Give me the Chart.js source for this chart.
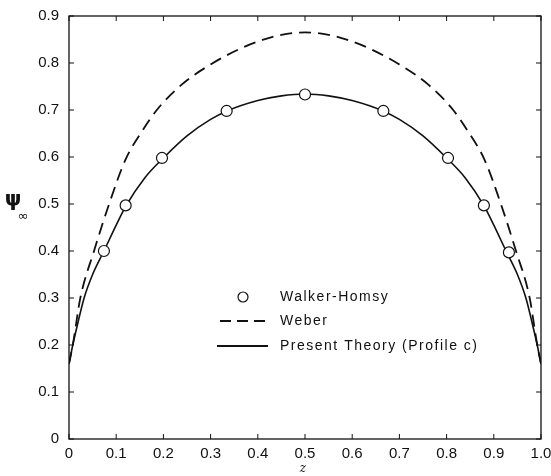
<!DOCTYPE html>
<html>
<head>
<meta charset="utf-8">
<script src="https://cdn.jsdelivr.net/npm/chart.js@4/dist/chart.umd.min.js"></script>
<style>
  html, body { margin: 0; padding: 0; background: #fff; }
  #wrap { width: 551px; height: 476px; }
</style>
</head>
<body>
<div id="wrap"><canvas id="grafica" width="551" height="476"></canvas></div>
<script>
// Walker-Homsy (circulos)
const zWalker = [0.074, 0.12, 0.197, 0.334, 0.5, 0.666, 0.803, 0.879, 0.932];
const psiWalker = [0.40, 0.497, 0.598, 0.698, 0.733, 0.698, 0.598, 0.497, 0.397];

// Weber (linea discontinua)
const zWeber = [0, 0.008, 0.024, 0.053, 0.085, 0.12, 0.155, 0.186, 0.24, 0.30, 0.366, 0.41, 0.45, 0.5,
                0.55, 0.59, 0.634, 0.70, 0.76, 0.814, 0.845, 0.88, 0.915, 0.947, 0.976, 0.992, 1.0];
const psiWeber = [0.16, 0.20, 0.30, 0.40, 0.50, 0.595, 0.655, 0.70, 0.755, 0.797, 0.832, 0.849, 0.86, 0.865,
                  0.86, 0.849, 0.832, 0.797, 0.755, 0.70, 0.655, 0.595, 0.50, 0.40, 0.30, 0.20, 0.16];

// Present Theory (Profile c) (linea continua)
const zTeoria = [0, 0.008, 0.016, 0.032, 0.05, 0.074, 0.1, 0.12, 0.16, 0.2, 0.25, 0.3, 0.335, 0.4, 0.45, 0.5,
                 0.55, 0.6, 0.665, 0.7, 0.75, 0.8, 0.84, 0.88, 0.9, 0.926, 0.95, 0.968, 0.984, 0.992, 1.0];
const psiTeoria = [0.16, 0.20, 0.235, 0.30, 0.35, 0.40, 0.455, 0.495, 0.555, 0.598, 0.645, 0.68, 0.698, 0.72, 0.73, 0.734,
                   0.73, 0.72, 0.698, 0.68, 0.645, 0.598, 0.555, 0.495, 0.455, 0.40, 0.35, 0.30, 0.235, 0.20, 0.16];

// Etiquetas de los ejes
const xTicks = [0, 0.1, 0.2, 0.3, 0.4, 0.5, 0.6, 0.7, 0.8, 0.9, 1.0];
const xLabels = ["0", "0.1", "0.2", "0.3", "0.4", "0.5", "0.6", "0.7", "0.8", "0.9", "1.0"];
const yTicks = [0, 0.1, 0.2, 0.3, 0.4, 0.5, 0.6, 0.7, 0.8, 0.9];
const yLabels = ["0", "0.1", "0.2", "0.3", "0.4", "0.5", "0.6", "0.7", "0.8", "0.9"];

const serie = (zs, ps) => zs.map((z, i) => ({ x: z, y: ps[i] }));

// Marco, ticks hacia dentro, leyenda y titulos
const marco = {
    id: "marco",
    afterDraw(chart) {
        const { ctx, chartArea: a, scales } = chart;
        ctx.save();
        ctx.strokeStyle = "#111";
        ctx.lineWidth = 1.3;
        ctx.strokeRect(a.left, a.top, a.right - a.left, a.bottom - a.top);

        ctx.lineWidth = 1;
        ctx.beginPath();
        xTicks.forEach(v => {
            const px = scales.x.getPixelForValue(v);
            ctx.moveTo(px, a.bottom); ctx.lineTo(px, a.bottom - 5);
            ctx.moveTo(px, a.top); ctx.lineTo(px, a.top + 5);
        });
        yTicks.forEach(v => {
            const py = scales.y.getPixelForValue(v);
            ctx.moveTo(a.left, py); ctx.lineTo(a.left + 5, py);
            ctx.moveTo(a.right, py); ctx.lineTo(a.right - 5, py);
        });
        ctx.stroke();

        // leyenda
        ctx.fillStyle = "#111";
        ctx.font = "14px 'Liberation Sans', Arial, sans-serif";
        ctx.letterSpacing = "1.5px";
        ctx.textBaseline = "middle";
        ctx.textAlign = "left";

        ctx.beginPath();
        ctx.lineWidth = 1.2;
        ctx.arc(243, 297, 5, 0, Math.PI * 2);
        ctx.fillStyle = "#fff";
        ctx.fill();
        ctx.stroke();
        ctx.fillStyle = "#111";
        ctx.fillText("Walker-Homsy", 280, 297);

        ctx.lineWidth = 2;
        ctx.setLineDash([11, 6]);
        ctx.beginPath();
        ctx.moveTo(220, 321); ctx.lineTo(268, 321);
        ctx.stroke();
        ctx.fillText("Weber", 280, 321);

        ctx.setLineDash([]);
        ctx.beginPath();
        ctx.moveTo(217, 346); ctx.lineTo(268, 346);
        ctx.stroke();
        ctx.fillText("Present Theory (Profile c)", 280, 346);

        // titulos de los ejes
        ctx.letterSpacing = "0px";
        ctx.textAlign = "center";
        ctx.font = "bold 21px 'DejaVu Sans', sans-serif";
        ctx.fillText("\u03C8", 13, 201);
        ctx.font = "13px 'DejaVu Sans', sans-serif";
        ctx.fillText("\u221E", 23, 217);
        ctx.font = "italic 12px 'DejaVu Serif', serif";
        ctx.fillText("z", 303, 469);
        ctx.restore();
    }
};

new Chart(document.getElementById("grafica"), {
    type: "scatter",
    data: {
        datasets: [
            {
                label: "Walker-Homsy",
                data: serie(zWalker, psiWalker),
                showLine: false,
                pointRadius: 5.5,
                pointBorderWidth: 1.2,
                pointBackgroundColor: "#fff",
                pointBorderColor: "#111",
                order: 0
            },
            {
                label: "Weber",
                data: serie(zWeber, psiWeber),
                showLine: true,
                borderColor: "#111",
                borderWidth: 1.8,
                borderDash: [12, 7],
                pointRadius: 0,
                cubicInterpolationMode: "monotone",
                order: 2
            },
            {
                label: "Present Theory (Profile c)",
                data: serie(zTeoria, psiTeoria),
                showLine: true,
                borderColor: "#111",
                borderWidth: 1.6,
                pointRadius: 0,
                cubicInterpolationMode: "monotone",
                order: 1
            }
        ]
    },
    options: {
        responsive: false,
        animation: false,
        layout: { autoPadding: false, padding: { left: 0, right: 10, top: 16, bottom: 0 } },
        plugins: { legend: { display: false }, tooltip: { enabled: false } },
        scales: {
            x: {
                type: "linear",
                min: 0, max: 1,
                afterFit: s => { s.height = 37; s.paddingLeft = 0; s.paddingRight = 0; },
                afterBuildTicks: s => { s.ticks = xTicks.map(v => ({ value: v })); },
                grid: { display: false, drawTicks: false },
                border: { display: false },
                ticks: {
                    color: "#111",
                    padding: 6,
                    maxRotation: 0,
                    font: { family: "'Liberation Sans', Arial, sans-serif", size: 15 },
                    callback: (v) => xLabels[xTicks.findIndex(t => Math.abs(t - v) < 1e-6)]
                }
            },
            y: {
                type: "linear",
                min: 0, max: 0.9,
                afterFit: s => { s.width = 69; s.paddingTop = 0; s.paddingBottom = 0; },
                afterBuildTicks: s => { s.ticks = yTicks.map(v => ({ value: v })); },
                grid: { display: false, drawTicks: false },
                border: { display: false },
                ticks: {
                    color: "#111",
                    padding: 10,
                    font: { family: "'Liberation Sans', Arial, sans-serif", size: 15 },
                    callback: (v) => yLabels[yTicks.findIndex(t => Math.abs(t - v) < 1e-6)]
                }
            }
        }
    },
    plugins: [marco]
});
</script>
</body>
</html>
